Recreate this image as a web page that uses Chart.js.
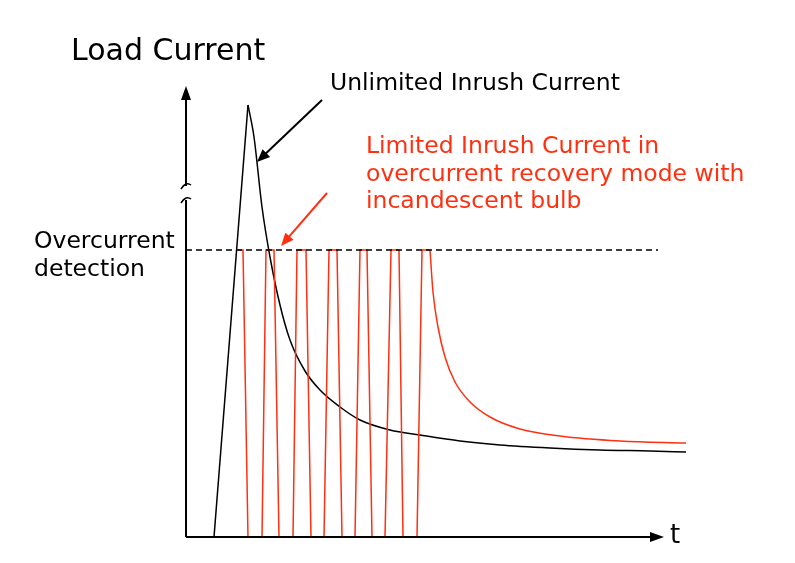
<!DOCTYPE html>
<html><head><meta charset="utf-8">
<script src="https://cdn.jsdelivr.net/npm/chart.js@4"></script>
<style>html,body{margin:0;background:#fff}#c{width:795px;height:563px}</style>
</head><body><div id="c"><canvas id="chart"></canvas></div>
<script>
// time axis in pixel-like units, current measured upwards from the baseline
const riseT = [214, 248];
const riseI = [0, 432];
const unlimitedT = [248, 254, 262, 270, 280, 290, 305, 320, 340, 360, 390, 420, 460, 500, 550, 600, 650, 686];
const unlimitedI = [432, 400, 330, 280, 232, 197, 166, 147, 130, 117, 107, 102, 96, 92, 89, 87, 86, 85];
const pulseT = [238, 243, 248, 262, 266, 274, 279, 293, 297, 306, 311, 324, 329, 337, 342, 355, 360, 367, 372, 385, 391, 399, 403, 417, 422, 430];
const pulseI = [287, 287, 0, 0, 287, 287, 0, 0, 287, 287, 0, 0, 287, 287, 0, 0, 287, 287, 0, 0, 287, 287, 0, 0, 287, 287];
const recoveryT = [430, 433, 438, 445, 455, 470, 490, 520, 560, 620, 686];
const recoveryI = [287, 245, 210, 180, 155, 135, 120, 108, 101, 96, 94];
const detectionLevel = 287;

const pts = (xs, ys) => xs.map((x, i) => ({ x: x, y: ys[i] }));

const deco = {
  id: 'deco',
  afterDraw(chart) {
    const c = chart.ctx, x = chart.scales.x, y = chart.scales.y;
    const x0 = x.getPixelForValue(186), y0 = y.getPixelForValue(0);
    c.save();
    c.strokeStyle = '#000'; c.fillStyle = '#000'; c.lineWidth = 2;
    // y axis with break
    c.beginPath(); c.moveTo(x0, y0); c.lineTo(x0, 200); c.moveTo(x0, 186); c.lineTo(x0, 96); c.stroke();
    c.lineWidth = 1.5;
    [186, 200].forEach(py => { c.beginPath(); c.moveTo(x0 - 5, py + 3); c.quadraticCurveTo(x0, py - 5, x0 + 5, py - 1); c.stroke(); });
    c.beginPath(); c.moveTo(x0, 86); c.lineTo(x0 - 5, 100); c.lineTo(x0 + 5, 100); c.closePath(); c.fill();
    // x axis
    c.lineWidth = 2;
    c.beginPath(); c.moveTo(x0, y0); c.lineTo(654, y0); c.stroke();
    c.beginPath(); c.moveTo(664, y0); c.lineTo(650, y0 - 5); c.lineTo(650, y0 + 5); c.closePath(); c.fill();
    // arrows
    const arrow = (xa, ya, xb, yb, col) => {
      c.strokeStyle = col; c.fillStyle = col; c.lineWidth = 2;
      const a = Math.atan2(yb - ya, xb - xa);
      c.beginPath(); c.moveTo(xa, ya); c.lineTo(xb - 10 * Math.cos(a), yb - 10 * Math.sin(a)); c.stroke();
      c.beginPath(); c.moveTo(xb, yb);
      c.lineTo(xb - 14 * Math.cos(a - 0.4), yb - 14 * Math.sin(a - 0.4));
      c.lineTo(xb - 14 * Math.cos(a + 0.4), yb - 14 * Math.sin(a + 0.4)); c.closePath(); c.fill();
    };
    arrow(322, 100, 257, 162, '#000');
    arrow(327, 193, 281, 246, '#ff3010');
    // text
    c.fillStyle = '#000'; c.textBaseline = 'alphabetic';
    c.font = '30px "DejaVu Sans"'; c.fillText('Load Current', 71, 60);
    c.font = '23.5px "DejaVu Sans"';
    c.fillText('Unlimited Inrush Current', 330, 90);
    c.fillText('Overcurrent', 34, 248); c.fillText('detection', 34, 276);
    c.font = '26px "DejaVu Sans"'; c.fillText('t', 670, 543);
    c.fillStyle = '#ff3010'; c.font = '23.5px "DejaVu Sans"';
    c.fillText('Limited Inrush Current in', 366, 153);
    c.fillText('overcurrent recovery mode with', 366, 181);
    c.fillText('incandescent bulb', 366, 208);
    c.restore();
  }
};

new Chart(document.getElementById('chart'), {
  type: 'line',
  data: {
    datasets: [
      { data: pts([186, 658], [detectionLevel, detectionLevel]), borderColor: '#000', borderWidth: 1.5, borderDash: [6, 4], pointRadius: 0 },
      { data: pts(pulseT, pulseI), borderColor: '#ff3010', borderWidth: 1.5, pointRadius: 0, tension: 0 },
      { data: pts(recoveryT, recoveryI), borderColor: '#ff3010', borderWidth: 1.5, pointRadius: 0, cubicInterpolationMode: 'monotone', clip: false },
      { data: pts(riseT, riseI), borderColor: '#000', borderWidth: 1.5, pointRadius: 0, tension: 0 },
      { data: pts(unlimitedT, unlimitedI), borderColor: '#000', borderWidth: 1.5, pointRadius: 0, cubicInterpolationMode: 'monotone', clip: false }
    ]
  },
  options: {
    responsive: true, maintainAspectRatio: false, animation: false,
    layout: { padding: { left: 186, right: 135, top: 90, bottom: 26 } },
    plugins: { legend: { display: false }, tooltip: { enabled: false } },
    scales: {
      x: { type: 'linear', display: false, min: 186, max: 660 },
      y: { display: false, min: 0, max: 447 }
    }
  },
  plugins: [deco]
});
</script></body></html>
